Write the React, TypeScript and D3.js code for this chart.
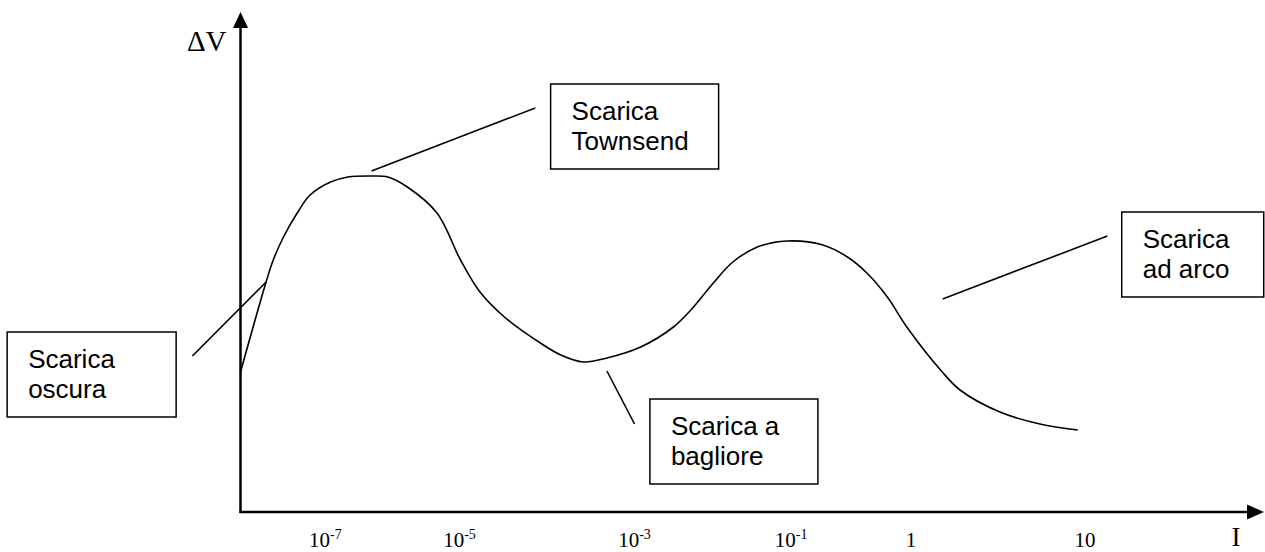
import React from 'react';
import * as d3 from 'd3';

// curva ΔV(I): posizione sull'asse I (0-100) e ΔV (0-100)
const curveI = [0, 2.5, 3.2, 4.2, 5.6, 6.8, 8.8, 10.5, 12.7, 14.4, 16.3, 19.2, 21.5, 23.4, 25.9, 29.3, 31.3, 33.5, 35.8, 39.1, 42.3, 44.0, 46.2, 48.1, 50.5, 53.4, 56.9, 59.3, 61.2, 63.2, 65.1, 68.4, 70.3, 74.2, 78.1, 81.8];
const curveV = [28, 46, 50.4, 55, 60, 63.4, 66, 67, 67.2, 67, 65, 59.8, 50.4, 44, 38.8, 33.8, 31.4, 30, 30.8, 33, 37, 40.4, 45.8, 50, 53, 54.2, 53.4, 51, 47.8, 43, 37, 28.4, 24.4, 20.0, 17.6, 16.4];

// etichette dell'asse I
const tickBases = ['10', '10', '10', '10', '1', '10'];
const tickExps = ['-7', '-5', '-3', '-1', '', ''];
const tickPos = [8.3, 21.4, 38.5, 53.8, 65.5, 82.5];

// riquadri di testo e linee di richiamo
const noteLines = [['Scarica', 'Townsend'], ['Scarica', 'oscura'], ['Scarica a', 'bagliore'], ['Scarica', 'ad arco']];
const noteI = [30.3, -22.8, 40.0, 86.1];
const noteV = [85.6, 36, 22.6, 60];
const leaderFromI = [12.8, -4.7, 35.8, 68.6];
const leaderFromV = [68.2, 31.2, 28.2, 42.6];
const leaderToI = [28.8, 2.5, 38.5, 84.7];
const leaderToV = [80.8, 46, 17.6, 55.2];

const width = 1265;
const height = 552;

const App: React.FC = () => {
  const x = d3.scaleLinear().domain([0, 100]).range([240.5, 1264]);
  const y = d3.scaleLinear().domain([0, 100]).range([512, 12]);

  const points = curveI.map((v, i) => [v, curveV[i]] as [number, number]);
  const line = d3.line<[number, number]>()
    .x(d => x(d[0]))
    .y(d => y(d[1]))
    .curve(d3.curveCatmullRom.alpha(0.5));

  const x0 = x(0);
  const y0 = y(0);
  const yTop = y(100);
  const xEnd = x(100);
  const boxW = [168, 169, 168, 142];
  const boxH = 85;
  const serif = "'Liberation Serif', 'Times New Roman', serif";

  return (
    <svg width={width} height={height} style={{ position: 'absolute', left: 0, top: 0, background: '#fff' }}>
      {/* assi */}
      <line x1={x0} y1={y0 + 1} x2={x0} y2={yTop + 14} stroke="#000" strokeWidth={2.5} />
      <path d={`M${x0},${yTop} L${x0 - 7.5},${yTop + 16} L${x0 + 7.5},${yTop + 16} Z`} fill="#000" />
      <line x1={x0 - 1} y1={y0} x2={xEnd - 14} y2={y0} stroke="#000" strokeWidth={2.5} />
      <path d={`M${xEnd},${y0} L${xEnd - 17},${y0 - 7.5} L${xEnd - 17},${y0 + 7.5} Z`} fill="#000" />

      <text x={x0 - 14} y={51} textAnchor="end" fontFamily={serif} fontSize={29}>ΔV</text>
      <text x={xEnd - 28} y={546} textAnchor="middle" fontFamily={serif} fontSize={27}>I</text>

      {tickBases.map((b, i) => (
        <text key={i} x={x(tickPos[i])} y={547} textAnchor="middle" fontFamily={serif} fontSize={21}>
          {b}
          {tickExps[i] && <tspan fontSize={14} dy={-8}>{tickExps[i]}</tspan>}
        </text>
      ))}

      {/* curva */}
      <path d={line(points) || ''} fill="none" stroke="#000" strokeWidth={1.6} />

      {/* note */}
      {noteLines.map((lines, i) => (
        <g key={i}>
          <line x1={x(leaderFromI[i])} y1={y(leaderFromV[i])} x2={x(leaderToI[i])} y2={y(leaderToV[i])} stroke="#000" strokeWidth={1.6} />
          <rect x={x(noteI[i])} y={y(noteV[i])} width={boxW[i]} height={boxH} fill="#fff" stroke="#000" strokeWidth={1.5} />
          {lines.map((t, j) => (
            <text key={j} x={x(noteI[i]) + 21} y={y(noteV[i]) + 36 + j * 30} fontFamily="'Liberation Sans', Arial, sans-serif" fontSize={26}>{t}</text>
          ))}
        </g>
      ))}
    </svg>
  );
};

export default App;
